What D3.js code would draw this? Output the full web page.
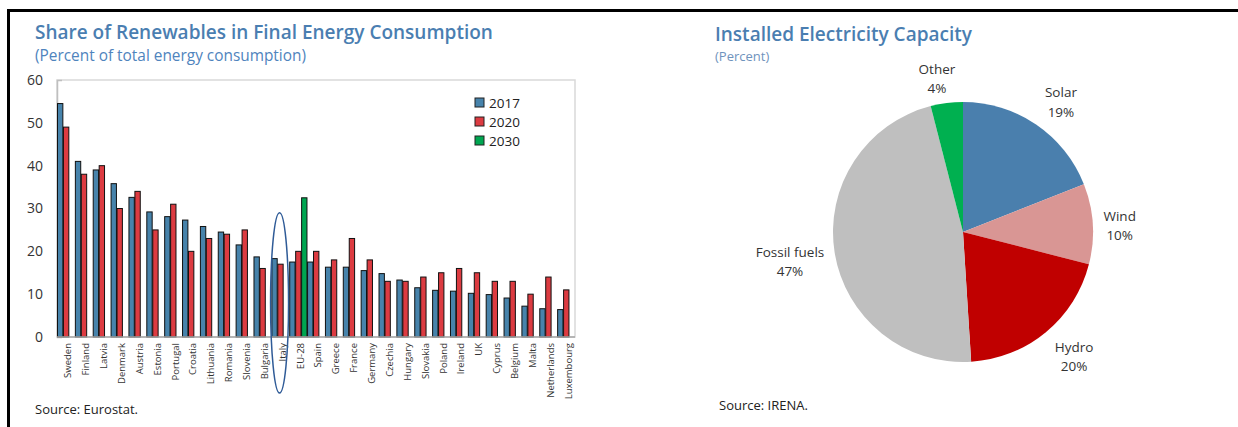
<!DOCTYPE html>
<html lang="en">
<head>
<meta charset="UTF-8">
<title>Renewables and Installed Electricity Capacity</title>
<style>
  body { margin: 0; background: #fff; }
  svg { display: block; font-family: "Open Sans", sans-serif; }
  .title { font-weight: 600; fill: #4a7eb1; font-size: 19px; }
  .subtitle { fill: #4f84bd; font-size: 15.4px; }
  .source { fill: #222; font-size: 13px; }
  .axis text { fill: #333; font-size: 14px; font-family: "Open Sans", sans-serif; }
  .axis path, .axis line { stroke: #bfbfbf; }
  .cat-label { fill: #333; font-size: 9.5px; }
  .legend text { fill: #222; font-size: 13.5px; }
  .pie-label { fill: #333; font-size: 13.5px; }
</style>
</head>
<body>
<svg id="chart" width="1238" height="427"></svg>
<script src="https://cdn.jsdelivr.net/npm/d3@7/dist/d3.min.js"></script>
<script>
// ---- data ----
const countries = ["Sweden", "Finland", "Latvia", "Denmark", "Austria", "Estonia", "Portugal",
  "Croatia", "Lithuania", "Romania", "Slovenia", "Bulgaria", "Italy", "EU-28", "Spain", "Greece",
  "France", "Germany", "Czechia", "Hungary", "Slovakia", "Poland", "Ireland", "UK", "Cyprus",
  "Belgium", "Malta", "Netherlands", "Luxembourg"];
const years = ["2017", "2020", "2030"];
const share2017 = [54.5, 41.0, 39.0, 35.8, 32.6, 29.2, 28.1, 27.3, 25.8, 24.5, 21.5, 18.7, 18.3,
  17.5, 17.5, 16.3, 16.3, 15.5, 14.8, 13.3, 11.5, 10.9, 10.7, 10.2, 9.9, 9.1, 7.2, 6.6, 6.4];
const target2020 = [49, 38, 40, 30, 34, 25, 31, 20, 23, 24, 25, 16, 17, 20, 20, 18, 23, 18, 13,
  13, 14, 15, 16, 15, 13, 13, 10, 14, 11];
const target2030 = { "EU-28": 32.5 };
const yTicks = [0, 10, 20, 30, 40, 50, 60];

const sources = ["Solar", "Wind", "Hydro", "Fossil fuels", "Other"];
const capacity = [19, 10, 20, 47, 4];

// colours
const barColor = { "2017": "#4783ab", "2020": "#dc3b41", "2030": "#00a651" };
const pieColor = ["#4a7fad", "#d99694", "#c00000", "#bfbfbf", "#00b050"];

const svg = d3.select("#chart");

// outer frame (top and left rules)
svg.append("line").attr("x1", 7).attr("x2", 1238).attr("y1", 10.5).attr("y2", 10.5)
  .attr("stroke", "#000").attr("stroke-width", 3);
svg.append("line").attr("x1", 8.5).attr("x2", 8.5).attr("y1", 9).attr("y2", 427)
  .attr("stroke", "#000").attr("stroke-width", 3);

// ================= left: bar chart =================
svg.append("text").attr("class", "title").attr("x", 35).attr("y", 39)
  .text("Share of Renewables in Final Energy Consumption");
svg.append("text").attr("class", "subtitle").attr("x", 35).attr("y", 61)
  .text("(Percent of total energy consumption)");
svg.append("text").attr("class", "source").attr("x", 35).attr("y", 414)
  .text("Source: Eurostat.");

const plot = { left: 57, right: 575, top: 80, bottom: 337 };

const x = d3.scaleBand().domain(countries).range([plot.left, plot.right]);
const x1 = d3.scaleBand().domain(years).range([0, x.bandwidth()]);
const y = d3.scaleLinear().domain([0, 60]).range([plot.bottom, plot.top]);

// plot frame
svg.append("rect")
  .attr("x", plot.left).attr("y", plot.top)
  .attr("width", plot.right - plot.left).attr("height", plot.bottom - plot.top)
  .attr("fill", "none").attr("stroke", "#d9d9d9").attr("stroke-width", 1.5);

svg.append("g")
  .attr("class", "axis")
  .attr("transform", `translate(${plot.left},0)`)
  .call(d3.axisLeft(y).tickValues(yTicks).tickSize(-5).tickPadding(14))
  .call(g => g.select(".domain").attr("stroke", "#bfbfbf").attr("stroke-width", 1.5));

// bars
const barRows = [];
countries.forEach((c, i) => {
  barRows.push({ country: c, year: "2017", value: share2017[i] });
  barRows.push({ country: c, year: "2020", value: target2020[i] });
  if (target2030[c] != null) barRows.push({ country: c, year: "2030", value: target2030[c] });
});

svg.append("g").selectAll("rect")
  .data(barRows)
  .join("rect")
  .attr("x", d => x(d.country) + x1(d.year) + 0.5)
  .attr("y", d => y(d.value))
  .attr("width", x1.bandwidth() - 0.6)
  .attr("height", d => y(0) - y(d.value))
  .attr("fill", d => barColor[d.year])
  .attr("stroke", "#111")
  .attr("stroke-width", 1);

// x axis line
svg.append("line")
  .attr("x1", plot.left).attr("x2", plot.right)
  .attr("y1", y(0)).attr("y2", y(0))
  .attr("stroke", "#a6a6a6").attr("stroke-width", 1.5);

// category labels
svg.append("g").selectAll("text")
  .data(countries)
  .join("text")
  .attr("class", "cat-label")
  .attr("transform", d => `translate(${x(d) + x.bandwidth() * 0.62},${plot.bottom + 6}) rotate(-90)`)
  .attr("text-anchor", "end")
  .attr("dy", "0.35em")
  .text(d => d);

// Italy highlight ellipse
svg.append("ellipse")
  .attr("cx", x("Italy") + x.bandwidth() * 0.46)
  .attr("cy", (y(29) + plot.bottom + 56) / 2)
  .attr("rx", 9)
  .attr("ry", (plot.bottom + 56 - y(29)) / 2)
  .attr("fill", "none")
  .attr("stroke", "#2f5b97")
  .attr("stroke-width", 1.5);

// legend
const legend = svg.append("g").attr("class", "legend")
  .attr("transform", "translate(475,98)");
const li = legend.selectAll("g").data(years).join("g")
  .attr("transform", (d, i) => `translate(0,${i * 19})`);
li.append("rect").attr("width", 9).attr("height", 9)
  .attr("fill", d => barColor[d]).attr("stroke", "#222").attr("stroke-width", 1);
li.append("text").attr("x", 14).attr("y", 10).text(d => d);

// ================= right: pie chart =================
svg.append("text").attr("class", "title").attr("x", 715).attr("y", 41)
  .text("Installed Electricity Capacity");
svg.append("text").attr("class", "subtitle").attr("x", 715).attr("y", 61)
  .style("font-size", "13px").style("fill", "#6f93bd")
  .text("(Percent)");
svg.append("text").attr("class", "source").attr("x", 719).attr("y", 410)
  .text("Source: IRENA.");

const pieCenter = { x: 963, y: 232 };
const radius = 130;
const pieData = sources.map((s, i) => ({ name: s, value: capacity[i], color: pieColor[i] }));
const pie = d3.pie().sort(null).value(d => d.value);
const arc = d3.arc().innerRadius(0).outerRadius(radius);
const labelArc = d3.arc().innerRadius(radius + 30).outerRadius(radius + 30);
// small nudges so labels sit where the reference has them
const labelNudge = {
  "Solar": [8, 1], "Wind": [-3, 2], "Hydro": [9, 0], "Fossil fuels": [-15, 3], "Other": [-6, 4]
};

const pg = svg.append("g").attr("transform", `translate(${pieCenter.x},${pieCenter.y})`);
const arcs = pie(pieData);
pg.selectAll("path").data(arcs).join("path")
  .attr("d", arc)
  .attr("fill", d => d.data.color);

const lab = pg.selectAll("text.pie-label").data(arcs).join("text")
  .attr("class", "pie-label")
  .attr("text-anchor", "middle")
  .attr("transform", d => {
    const [cx, cy] = labelArc.centroid(d);
    const n = labelNudge[d.data.name];
    return `translate(${cx + n[0]},${cy + n[1]})`;
  });
lab.append("tspan").attr("x", 0).attr("dy", "-0.25em").text(d => d.data.name);
lab.append("tspan").attr("x", 0).attr("dy", "1.45em").text(d => d.data.value + "%");
</script>
</body>
</html>
